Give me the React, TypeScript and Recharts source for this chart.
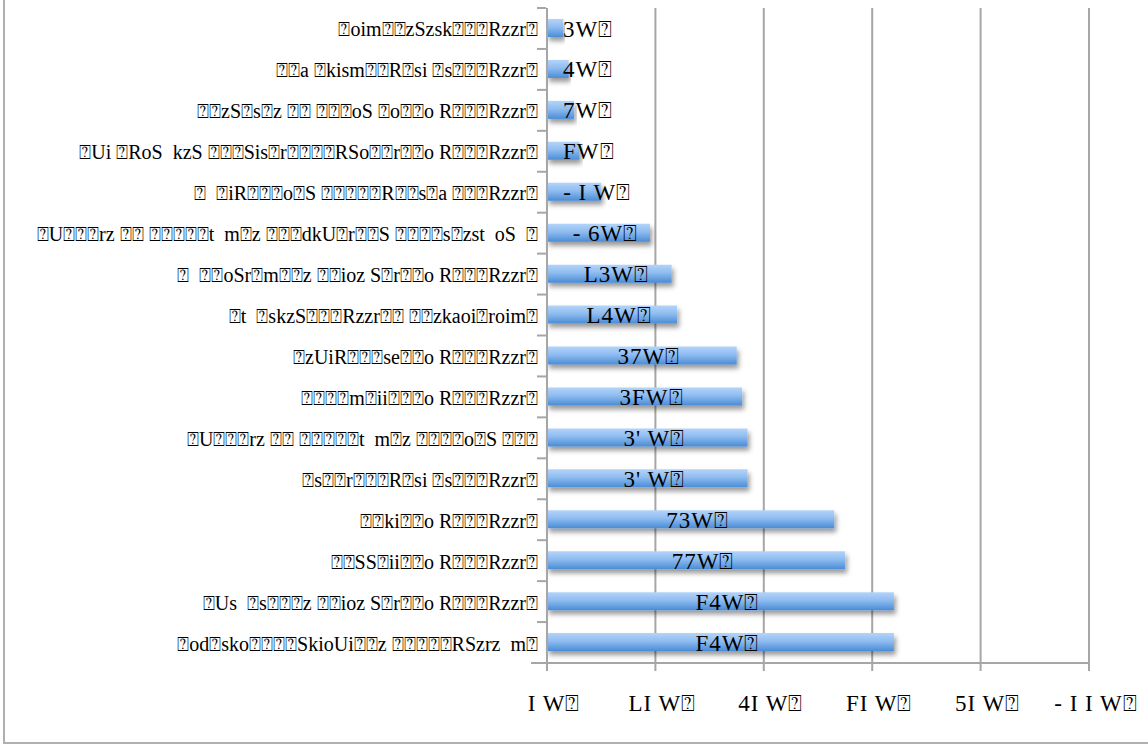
import React from 'react';
import { BarChart, Bar, XAxis, YAxis, CartesianGrid, LabelList } from 'recharts';

const Q = '\u2370';
const q = (s: string) => s.replace(/#/g, Q);

const categories = [
  q('#oim##zSzsk###Rzzr#'),
  q('##a #kism##R#si #s###Rzzr#'),
  q('##zS#s#z ## ###oS #o##o R###Rzzr#'),
  q('#Ui #RoS  kzS ###Sis#r####RSo##r##o R###Rzzr#'),
  q('#  #iR###o#S #####R##s#a ###Rzzr#'),
  q('#U###rz ## #####t  m#z ###dkU#r##S ####s#zst  oS  #'),
  q('#  ##oSr#m##z ##ioz S#r##o R###Rzzr#'),
  q('#t  #skzS###Rzzr## ##zkaoi#roim#'),
  q('#zUiR###se##o R###Rzzr#'),
  q('####m#ii###o R###Rzzr#'),
  q('#U###rz ## #####t  m#z ####o#S ###'),
  q('#s##r###R#si #s###Rzzr#'),
  q('##ki##o R###Rzzr#'),
  q('##SS#ii##o R###Rzzr#'),
  q('#Us  #s###z ##ioz S#r##o R###Rzzr#'),
  q('#od#sko####SkioUi##z #####RSzrz  m#'),
];

const values = [3, 4, 5, 6, 10, 19, 23, 24, 35, 36, 37, 37, 53, 55, 64, 64];

const valueLabels = [
  q('3W#'), q('4W#'), q('7W#'), q('FW#'), q('- I W#'), q('- 6W#'), q('L3W#'), q('L4W#'),
  q('37W#'), q('3FW#'), q("3' W#"), q("3' W#"), q('73W#'), q('77W#'), q('F4W#'), q('F4W#'),
];

const xTicks = [0, 20, 40, 60, 80, 100];
const xTickLabels = [q('I W#'), q('LI W#'), q('4I W#'), q('FI W#'), q('5I W#'), q('- I I W#')];

const data = categories.map((name, i) => ({ name, value: values[i], label: valueLabels[i] }));

const FONT = '"Liberation Serif", "DejaVu Serif", serif';
const GRID = '#a6a6a6';
const VAL_SIZE = 23;
const VAL_SPACING = 1;

let ctx: CanvasRenderingContext2D | null = null;
function measure(text: string, size: number, spacing: number): number {
  if (!ctx) {
    const c = document.createElement('canvas');
    ctx = c.getContext('2d');
  }
  if (!ctx) return text.length * size * 0.5;
  ctx.font = `${size}px ${FONT}`;
  return ctx.measureText(text).width + spacing * text.length;
}

const CatTick = (props: any) => {
  const { x, y, payload, index, visibleTicksCount } = props;
  const off = payload?.offset ?? 0;
  const isLast = index === visibleTicksCount - 1;
  return (
    <g>
      <line x1={x - 10} x2={x - 1} y1={y - off} y2={y - off} stroke={GRID} strokeWidth={2} />
      {isLast && <line x1={x - 16} x2={x - 1} y1={y + off} y2={y + off} stroke={GRID} strokeWidth={2} />}
      <text
        x={x - 9}
        y={y + 1}
        textAnchor="end"
        dominantBaseline="central"
        fontFamily={FONT}
        fontSize={20}
        fill="#000"
        style={{ whiteSpace: 'pre', fontFamily: FONT }}
      >
        {payload.value}
      </text>
    </g>
  );
};

const ValTick = (props: any) => {
  const { x, y, index } = props;
  return (
    <text
      x={x + 7}
      y={y + 30}
      textAnchor="middle"
      dominantBaseline="central"
      fontFamily={FONT}
      fontSize={VAL_SIZE}
      fill="#000"
      style={{ whiteSpace: 'pre', fontFamily: FONT, letterSpacing: VAL_SPACING }}
    >
      {xTickLabels[index]}
    </text>
  );
};

const BarLabel = (props: any) => {
  const { x, y, width, height, value } = props;
  const text = String(value);
  const w = measure(text, VAL_SIZE, VAL_SPACING);
  const cx = Math.max(x + width / 2 + 7, x + 16 + w / 2);
  return (
    <text
      x={cx}
      y={y + height / 2 + 1}
      textAnchor="middle"
      dominantBaseline="central"
      fontFamily={FONT}
      fontSize={VAL_SIZE}
      fill="#000"
      style={{ whiteSpace: 'pre', fontFamily: FONT, letterSpacing: VAL_SPACING }}
    >
      {text}
    </text>
  );
};

export default function App() {
  return (
    <div style={{ position: 'absolute', left: 0, top: 0, width: 1148, height: 749, background: '#fff', overflow: 'hidden' }}>
      <div
        style={{
          position: 'absolute',
          left: 3,
          top: -10,
          width: 1160,
          height: 754,
          borderLeft: '2px solid #b0b0b0',
          borderBottom: '2px solid #b0b0b0',
          boxSizing: 'border-box',
        }}
      />
      <div style={{ position: 'absolute', left: 0, top: 0 }}>
        <BarChart
          width={1148}
          height={749}
          data={data}
          layout="vertical"
          margin={{ top: 8, right: 59, bottom: 46, left: 0 }}
          barSize={18}
        >
          <defs>
            <linearGradient id="barGrad" x1="0" y1="0" x2="0" y2="1">
              <stop offset="0%" stopColor="#b3d4fa" />
              <stop offset="45%" stopColor="#8fbcf0" />
              <stop offset="100%" stopColor="#4a8cd6" />
            </linearGradient>
            <filter id="shadow" x="-5%" y="-30%" width="115%" height="190%">
              <feDropShadow dx="2" dy="4" stdDeviation="2.5" floodColor="#000" floodOpacity="0.4" />
            </filter>
          </defs>
          <CartesianGrid horizontal={false} vertical stroke={GRID} strokeWidth={2} />
          <XAxis
            type="number"
            domain={[0, 100]}
            ticks={xTicks}
            interval={0}
            height={40}
            tickSize={8}
            tickMargin={2}
            axisLine={{ stroke: GRID, strokeWidth: 2 }}
            tickLine={{ stroke: GRID, strokeWidth: 2 }}
            tick={<ValTick />}
          />
          <YAxis
            type="category"
            dataKey="name"
            width={547}
            interval={0}
            tickSize={0}
            tickMargin={0}
            tickLine={false}
            axisLine={{ stroke: GRID, strokeWidth: 2 }}
            tick={<CatTick />}
          />
          <Bar dataKey="value" fill="url(#barGrad)" filter="url(#shadow)" isAnimationActive={false}>
            <LabelList dataKey="label" content={<BarLabel />} />
          </Bar>
        </BarChart>
      </div>
    </div>
  );
}
